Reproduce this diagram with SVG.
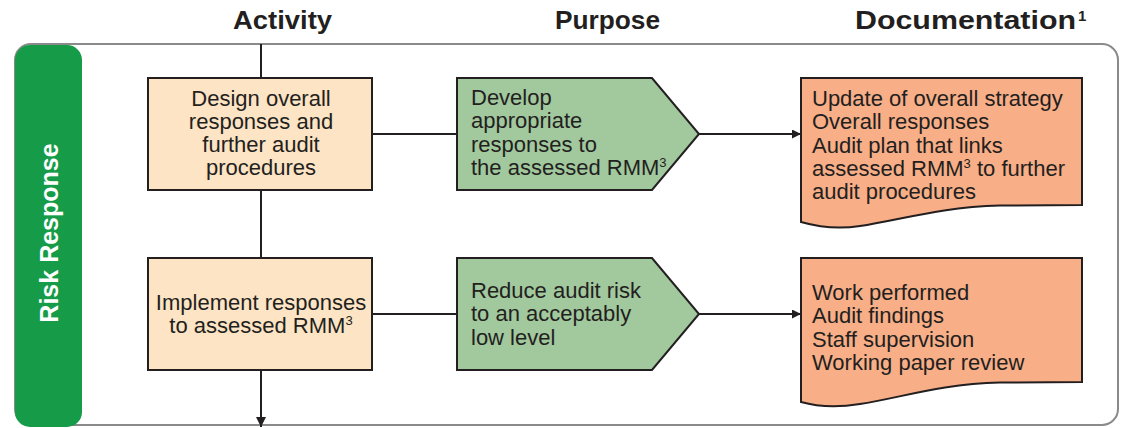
<svg xmlns="http://www.w3.org/2000/svg" width="1123" height="428" viewBox="0 0 1123 428">
<style>
.hdr{font-family:"Liberation Sans",Arial,sans-serif;font-weight:bold;font-size:25px;fill:#231F20}
.t{font-family:"Liberation Sans",Arial,sans-serif;font-size:22px;fill:#231F20}
.act{fill:#FCE4C4;stroke:#231F20;stroke-width:2}
.pur{fill:#A2C89E;stroke:#231F20;stroke-width:2}
.doc{fill:#F8AE87;stroke:#231F20;stroke-width:2}
.ln{stroke:#231F20;stroke-width:2;fill:none}
</style>
<defs>
<marker id="ah" viewBox="0 0 10 10" refX="10" refY="5" markerWidth="9" markerHeight="9" markerUnits="userSpaceOnUse" orient="auto">
<path d="M0,0 L10,5 L0,10 Z" fill="#231F20"/>
</marker>
<marker id="ahb" viewBox="0 0 10 10" refX="10" refY="5" markerWidth="10" markerHeight="10" markerUnits="userSpaceOnUse" orient="auto">
<path d="M0,0 L10,5 L0,10 Z" fill="#231F20"/>
</marker>
</defs>
<g id="headers">
<text class="hdr" x="233" y="29" textLength="99" lengthAdjust="spacingAndGlyphs">Activity</text>
<text class="hdr" x="555" y="29" textLength="105" lengthAdjust="spacingAndGlyphs">Purpose</text>
<text class="hdr" x="855" y="29" textLength="221" lengthAdjust="spacingAndGlyphs">Documentation</text>
<text class="hdr" x="1078" y="21" style="font-size:15px">1</text>
</g>
<g id="frame">
<rect x="15" y="44" width="1103" height="381" rx="16" fill="#fff" stroke="#8A8A8A" stroke-width="2"/>
</g>
<g id="lane">
<rect x="15" y="45" width="67" height="382" rx="15" fill="#169B48"/>
<text transform="translate(58,233) rotate(-90)" text-anchor="middle" style="font-family:'Liberation Sans',Arial,sans-serif;font-weight:bold;font-size:25px;fill:#fff">Risk Response</text>
</g>
<g id="connectors">
<line class="ln" x1="261" y1="44" x2="261" y2="78"/>
<line class="ln" x1="261" y1="190" x2="261" y2="258"/>
<line class="ln" x1="261" y1="370" x2="261" y2="427" marker-end="url(#ahb)"/>
<line class="ln" x1="372" y1="134" x2="457" y2="134"/>
<line class="ln" x1="372" y1="314" x2="457" y2="314"/>
<line class="ln" x1="699" y1="134" x2="801" y2="134" marker-end="url(#ah)"/>
<line class="ln" x1="699" y1="314" x2="801" y2="314" marker-end="url(#ah)"/>
</g>
<g id="act1">
<rect class="act" x="148" y="78" width="224" height="112"/>
<text class="t" text-anchor="middle"><tspan x="261" y="105.5">Design overall</tspan><tspan x="261" y="128.5">responses and</tspan><tspan x="261" y="151.5">further audit</tspan><tspan x="261" y="174.5">procedures</tspan></text>
</g>
<g id="act2">
<rect class="act" x="148" y="258" width="224" height="112"/>
<text class="t" x="261" y="309.5" text-anchor="middle">Implement responses</text>
<text class="t" x="261" y="332.5" text-anchor="middle">to assessed RMM<tspan font-size="13" dy="-8">3</tspan></text>
</g>
<g id="pur1">
<path class="pur" d="M457,78 L652,78 L699,134 L652,190 L457,190 Z"/>
<text class="t"><tspan x="471" y="105">Develop</tspan><tspan x="471" y="128.3">appropriate</tspan><tspan x="471" y="151.6">responses to</tspan></text>
<text class="t" x="471" y="175">the assessed RMM<tspan font-size="13" dy="-8">3</tspan></text>
</g>
<g id="pur2">
<path class="pur" d="M457,258 L652,258 L699,314 L652,370 L457,370 Z"/>
<text class="t"><tspan x="471" y="298">Reduce audit risk</tspan><tspan x="471" y="321.3">to an acceptably</tspan><tspan x="471" y="344.6">low level</tspan></text>
</g>
<g id="doc1">
<path class="doc" d="M801,78 L1082,78 L1082,205 L1000,205.5 C940,207 900,220 860,226 C835,230 815,226 801,222 Z"/>
<text class="t"><tspan x="812" y="106">Update of overall strategy</tspan><tspan x="812" y="129.3">Overall responses</tspan><tspan x="812" y="152.6">Audit plan that links</tspan></text>
<text class="t" x="812" y="176">assessed RMM<tspan font-size="13" dy="-8">3</tspan><tspan dy="8"> to further</tspan></text>
<text class="t" x="812" y="199.3">audit procedures</text>
</g>
<g id="doc2">
<path class="doc" d="M801,258 L1082,258 L1082,382 L1000,382.5 C940,384 900,398 860,404 C835,408 815,406 801,402 Z"/>
<text class="t"><tspan x="812" y="300">Work performed</tspan><tspan x="812" y="323.3">Audit findings</tspan><tspan x="812" y="346.6">Staff supervision</tspan><tspan x="812" y="370">Working paper review</tspan></text>
</g>
</svg>
